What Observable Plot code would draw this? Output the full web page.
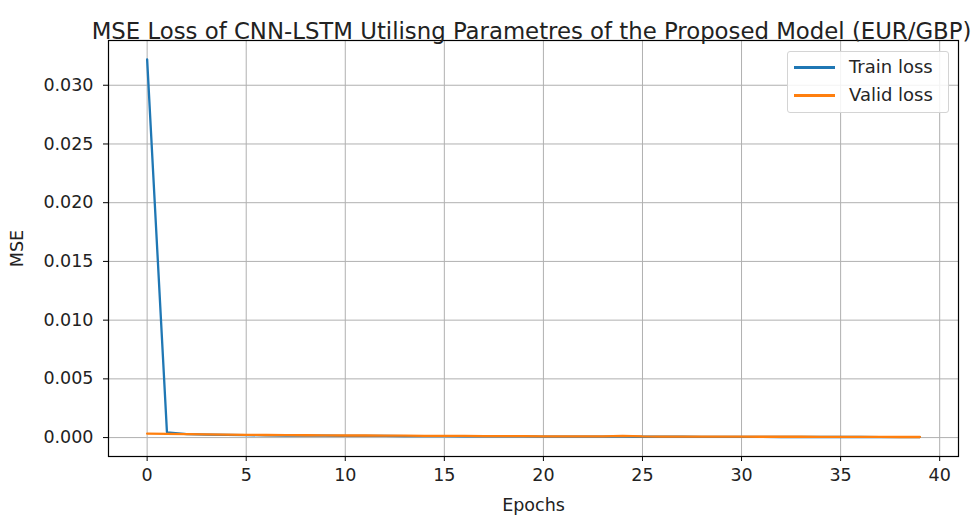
<!DOCTYPE html>
<html><head><meta charset="utf-8">
<script src="https://cdn.jsdelivr.net/npm/d3@7"></script>
<script src="https://cdn.jsdelivr.net/npm/@observablehq/plot@0.6"></script>
<style>
body{margin:0;background:#fff;font-family:"DejaVu Sans",sans-serif;}
#wrap{position:relative;width:976px;height:517px;}
.legend{position:absolute;left:787px;top:51px;width:162px;height:62px;border:1px solid #d4d4d4;border-radius:3px;background:rgba(255,255,255,0.85);box-sizing:border-box;font:18px "DejaVu Sans";color:#262626;}
.legend .row{position:absolute;left:0;height:22px;}
.legend .sw{position:absolute;left:6px;top:10px;width:41px;height:2.5px;}
.legend .lb{position:absolute;left:61px;top:0;white-space:nowrap;line-height:22px;}
</style></head>
<body><div id="wrap"></div>
<script>
const title = "MSE Loss of CNN-LSTM Utilisng Parametres of the Proposed Model (EUR/GBP)";
const seriesNames = ["Train loss", "Valid loss"];
const seriesColors = ["#1f77b4", "#ff7f0e"];
const xTicks = [0, 5, 10, 15, 20, 25, 30, 35, 40];
const yTicks = [0.000, 0.005, 0.010, 0.015, 0.020, 0.025, 0.030];
const epochs = [0,1,2,3,4,5,6,7,8,9,10,11,12,13,14,15,16,17,18,19,20,21,22,23,24,25,26,27,28,29,30,31,32,33,34,35,36,37,38,39];
const trainLoss = [0.0322,0.00045,0.00030,0.00026,0.00023,0.00021,0.00019,0.00018,0.00017,0.00016,0.00015,0.00014,0.00014,0.00013,0.00012,0.00012,0.00011,0.00011,0.00010,0.00010,0.00009,0.00009,0.00008,0.00008,0.00008,0.00007,0.00007,0.00007,0.00006,0.00006,0.00006,0.00006,0.00005,0.00005,0.00005,0.00005,0.00005,0.00004,0.00004,0.00004];
const validLoss = [0.00033,0.00031,0.00029,0.00027,0.00025,0.00023,0.00022,0.00021,0.00020,0.00019,0.00018,0.00018,0.00017,0.00016,0.00015,0.00015,0.00014,0.00013,0.00012,0.00012,0.00011,0.00010,0.00010,0.00011,0.00015,0.00010,0.00009,0.00009,0.00008,0.00008,0.00008,0.00007,0.00007,0.00007,0.00006,0.00006,0.00006,0.00006,0.00005,0.00005];

const rows = [];
epochs.forEach((e,i)=>{
  rows.push({epoch:e, loss:trainLoss[i], series:seriesNames[0]});
});
epochs.forEach((e,i)=>{
  rows.push({epoch:e, loss:validLoss[i], series:seriesNames[1]});
});

const chart = Plot.plot({
  width: 976, height: 517,
  marginLeft: 108, marginRight: 18, marginTop: 40, marginBottom: 61,
  style: {fontFamily: "DejaVu Sans", fontSize: "17.5px", color: "#222", background: "#fff"},
  x: {domain: [-1.95, 40.95], label: "Epochs"},
  y: {domain: [-0.00161, 0.03381], label: "MSE"},
  color: {domain: seriesNames, range: seriesColors},
  marks: [
    Plot.gridX(xTicks, {stroke: "#b0b0b0", strokeOpacity: 1, strokeWidth: 1}),
    Plot.gridY(yTicks, {stroke: "#b0b0b0", strokeOpacity: 1, strokeWidth: 1}),
    Plot.line(rows, {x: "epoch", y: "loss", z: "series", stroke: "series", strokeWidth: 2.3}),
    Plot.frame({stroke: "#000", strokeWidth: 1.2}),
    Plot.axisX(xTicks, {tickSize: 5, tickPadding: 7, tickFormat: d => String(d), label: "Epochs", labelAnchor: "center", labelArrow: "none", labelOffset: 54, stroke: "#000", fill: "#222"}),
    Plot.axisY(yTicks, {tickSize: 5, tickPadding: 10, tickFormat: d3.format(".3f"), label: "MSE", labelAnchor: "center", labelArrow: "none", labelOffset: 98, stroke: "#000", fill: "#222"}),
    Plot.text([title], {frameAnchor: "top", dy: -18, dx: -2, fontSize: 22.8, fill: "#222"})
  ]
});
const wrap = document.getElementById("wrap");
wrap.appendChild(chart);
const lg = document.createElement("div");
lg.className = "legend";
seriesNames.forEach((n,i)=>{
  const r = document.createElement("div");
  r.className = "row";
  r.style.top = (4 + i*28) + "px";
  r.style.width = "100%";
  r.innerHTML = `<div class="sw" style="background:${seriesColors[i]}"></div><div class="lb">${n}</div>`;
  lg.appendChild(r);
});
wrap.appendChild(lg);
</script></body></html>
